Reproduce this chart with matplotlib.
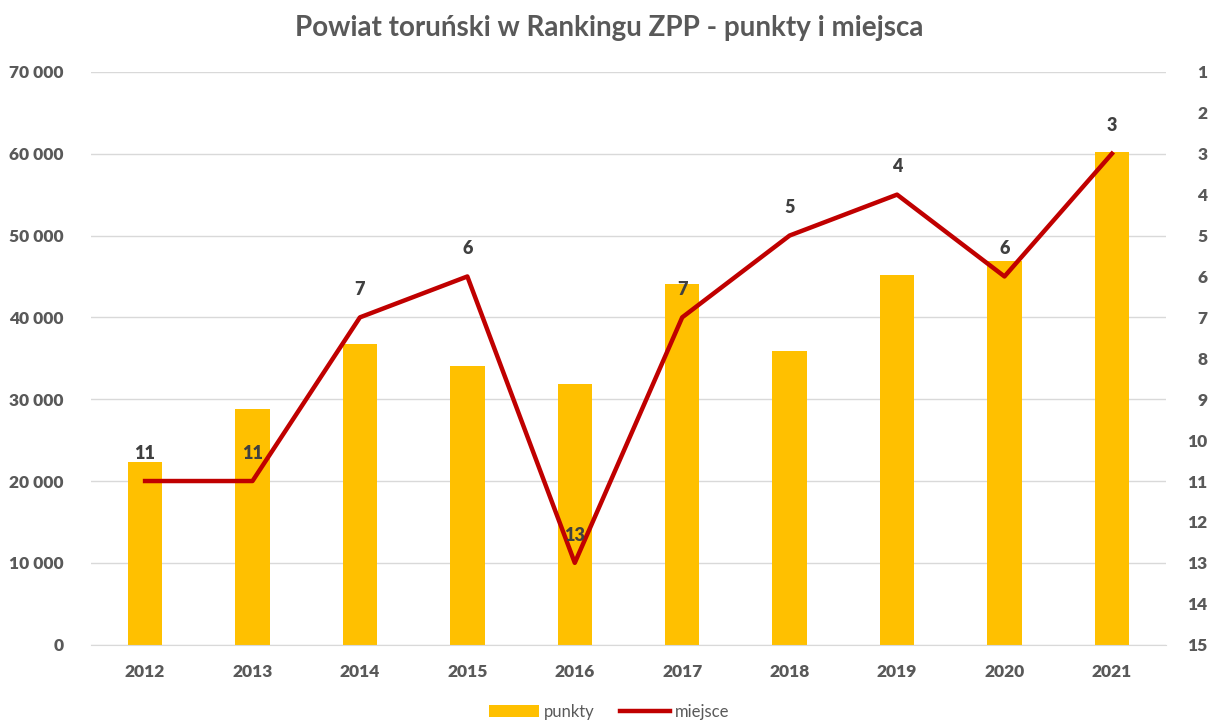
import matplotlib
matplotlib.use("Agg")
import matplotlib.pyplot as plt
from matplotlib.ticker import FuncFormatter

years = ["2012", "2013", "2014", "2015", "2016", "2017", "2018", "2019", "2020", "2021"]
punkty = [22300, 28800, 36800, 34100, 31800, 44100, 35900, 45200, 46900, 60200]
miejsce = [11, 11, 7, 6, 13, 7, 5, 4, 6, 3]

GRAY = "#595959"
plt.rcParams["font.family"] = ["Lato", "DejaVu Sans"]

fig = plt.figure(figsize=(12.18, 7.26), dpi=100)
ax = fig.add_axes([0.075, 0.112, 0.882, 0.789])
ax2 = ax.twinx()

x = list(range(len(years)))
ax.bar(x, punkty, width=0.32, color="#FFC000", label="punkty", zorder=2)
ax.set_ylim(0, 70000)
ax.set_xlim(-0.5, len(years) - 0.5)
ax.set_yticks(range(0, 70001, 10000))
ax.yaxis.set_major_formatter(FuncFormatter(lambda v, _: f"{int(v):,}".replace(",", " ")))
ax.grid(axis="y", color="#D9D9D9", linewidth=1, zorder=0)
ax.set_axisbelow(True)
ax.set_xticks(x)
ax.set_xticklabels(years)

ax2.plot(x, miejsce, color="#C00000", linewidth=3.2, label="miejsce", zorder=3)
ax2.set_ylim(15, 1)
ax2.set_yticks(range(1, 16))
for xi, m in zip(x, miejsce):
    ax2.annotate(str(m), (xi, m), xytext=(0, 20), textcoords="offset points",
                 ha="center", va="center", fontsize=13, fontweight="heavy", color="#404040")

for a in (ax, ax2):
    for s in a.spines.values():
        s.set_visible(False)
    a.tick_params(length=0, labelsize=12.5, labelcolor=GRAY)
    for lab in a.get_yticklabels() + a.get_xticklabels():
        lab.set_fontweight("heavy")
ax.spines["bottom"].set_visible(True)
ax.spines["bottom"].set_color("#D9D9D9")
ax.tick_params(axis="y", pad=20)
ax.tick_params(axis="x", pad=14)
ax2.tick_params(axis="y", pad=30)
for lab in ax2.get_yticklabels():
    lab.set_horizontalalignment("right")

fig.suptitle("Powiat toruński w Rankingu ZPP - punkty i miejsca", y=0.98,
             fontsize=20, fontweight="bold", color=GRAY)

h1, l1 = ax.get_legend_handles_labels()
h2, l2 = ax2.get_legend_handles_labels()
fig.legend(h1 + h2, l1 + l2, loc="lower center", bbox_to_anchor=(0.5, -0.012), ncol=2,
           frameon=False, fontsize=12, labelcolor=GRAY, handlelength=3, columnspacing=1.5,
           handletextpad=0.3)

fig.savefig("out.png", dpi=100)
